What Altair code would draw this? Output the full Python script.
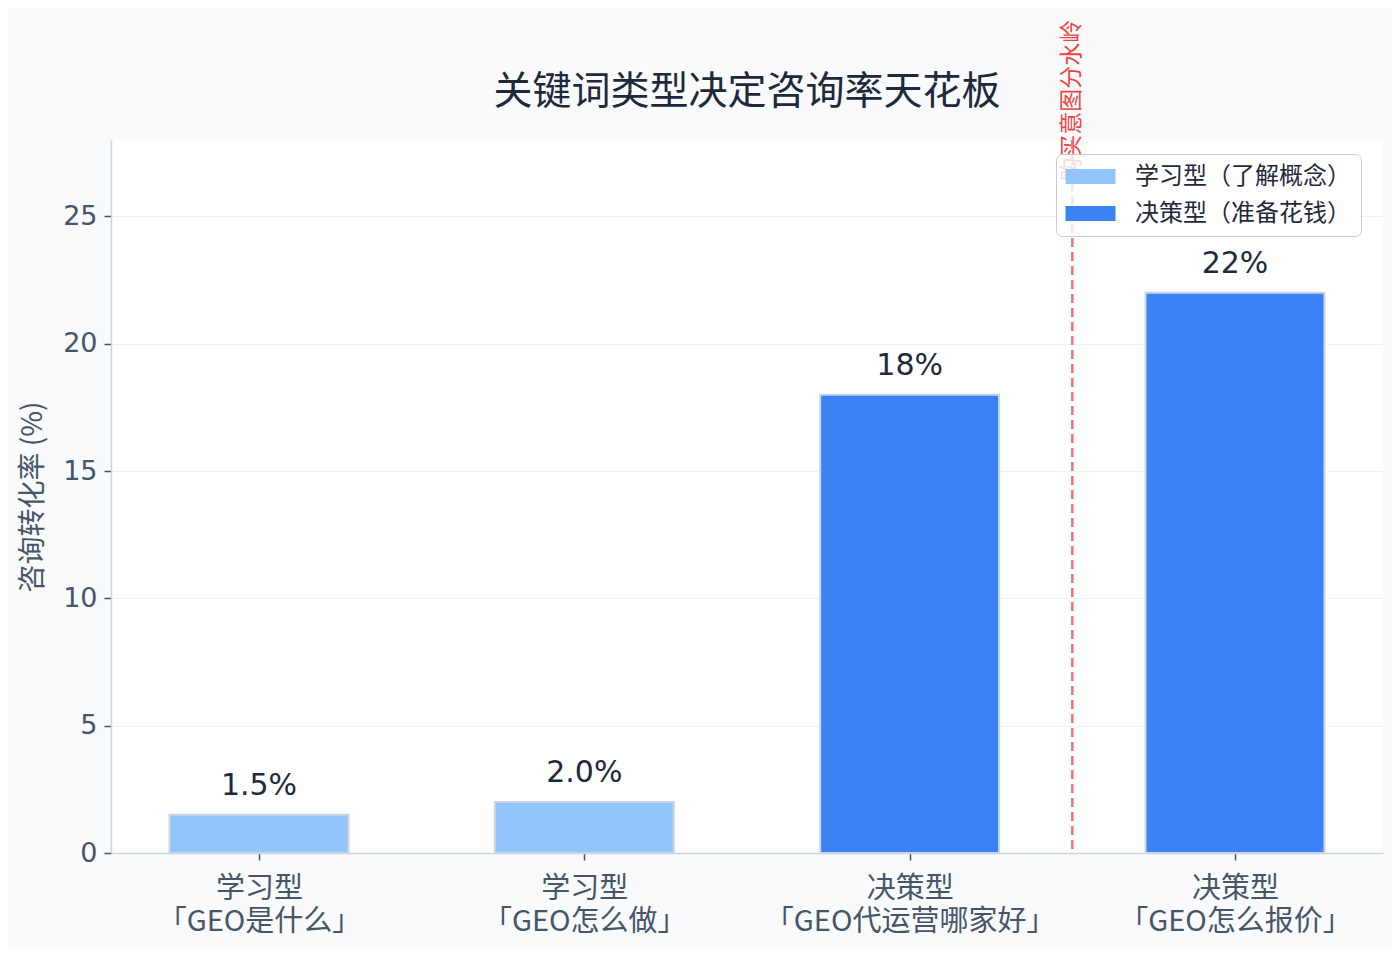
import altair as alt
import pandas as pd

# ---- data ----
categories = ["学习型\n「GEO是什么」", "学习型\n「GEO怎么做」", "决策型\n「GEO代运营哪家好」", "决策型\n「GEO怎么报价」"]
types = ["学习型（了解概念）", "学习型（了解概念）", "决策型（准备花钱）", "决策型（准备花钱）"]
values = [1.5, 2.0, 18.0, 22.0]
value_labels = ["1.5%", "2.0%", "18%", "22%"]
type_order = ["学习型（了解概念）", "决策型（准备花钱）"]
type_colors = ["#93c5fd", "#3b82f6"]
divider_pos = [2.5]
divider_text = ["购买意图分水岭"]
divider_text_y = [26.4]

df = pd.DataFrame({
    "pos": list(range(len(categories))),
    "value": values,
    "type": types,
    "label": value_labels,
})
div_df = pd.DataFrame({"pos": divider_pos, "text": divider_text, "ty": divider_text_y})

CJK = "Noto Sans CJK SC"
NUM = "DejaVu Sans, Noto Sans CJK SC"

label_list = "[" + ",".join("'" + c.replace("\n", "\\n") + "'" for c in categories) + "]"
label_expr = f"split({label_list}[round(datum.value)], '\\n')"

xscale = alt.Scale(domain=[-0.455, 3.455], nice=False, zero=False)
yscale = alt.Scale(domain=[0, 28], nice=False)

base = alt.Chart(df)

bars = base.transform_calculate(
    x0="datum.pos - 0.275", x1="datum.pos + 0.275"
).mark_bar(stroke="#cbd5e1", strokeWidth=2).encode(
    x=alt.X("x0:Q", scale=xscale, title=None,
            axis=alt.Axis(values=[0, 1, 2, 3], labelExpr=label_expr, grid=False,
                          labelFont=CJK, labelFontSize=29, labelColor="#475569",
                          labelLineHeight=33, labelPadding=14, labelLimit=500, tickSize=7,
                          tickColor="#475569", tickWidth=1.5,
                          domainColor="#cbd5e1", domainWidth=1.5, labelBaseline="top")),
    x2="x1:Q",
    y=alt.Y("value:Q", scale=yscale, title="咨询转化率 (%)",
            axis=alt.Axis(values=[0, 5, 10, 15, 20, 25], grid=True, gridColor="#eef2f6",
                          gridWidth=1.2, labelFont=NUM, labelFontSize=27,
                          labelColor="#475569", tickSize=7, tickColor="#475569",
                          tickWidth=1.5, labelPadding=7, domainColor="#cbd5e1",
                          domainWidth=1.5, titleFont=CJK, titleFontSize=28,
                          titleColor="#475569", titleFontWeight="normal",
                          titlePadding=15)),
    y2=alt.datum(0),
    color=alt.Color("type:N", scale=alt.Scale(domain=type_order, range=type_colors),
                    legend=alt.Legend(title=None, orient="none", legendX=945, legendY=14,
                                      fillColor="rgba(255,255,255,0.8)", strokeColor="#cccccc",
                                      cornerRadius=6, padding=10,
                                      labelFont=CJK, labelFontSize=24, labelColor="#1e293b",
                                      labelLimit=500,
                                      symbolType="M-2,-0.6H2V0.6H-2Z", symbolSize=625,
                                      symbolOffset=12, symbolStrokeWidth=0,
                                      labelOffset=32, rowPadding=12)),
)

value_text = base.mark_text(font=NUM, fontSize=30, color="#1e293b", baseline="alphabetic",
                            dy=-20).encode(
    x=alt.X("pos:Q", scale=xscale),
    y=alt.Y("value:Q", scale=yscale),
    text="label:N",
)

rule = alt.Chart(div_df).mark_rule(color="#f87171", strokeWidth=2.5, strokeDash=[9, 5]).encode(
    x=alt.X("pos:Q", scale=xscale),
)

div_label = alt.Chart(div_df).mark_text(angle=270, align="left", baseline="middle",
                                        font=CJK, fontSize=23, color="#ef4444").encode(
    x=alt.X("pos:Q", scale=xscale),
    y=alt.Y("ty:Q", scale=yscale),
    text="text:N",
)

chart = alt.layer(bars, value_text, div_label, rule).properties(
    width=1272, height=713,
    title=alt.TitleParams("关键词类型决定咨询率天花板", font=CJK, fontSize=39,
                          fontWeight="normal", color="#1e293b", anchor="middle",
                          frame="group", offset=28, dy=120),
    autosize=alt.AutoSizeParams(type="none"),
    padding={"left": 103, "top": 132, "right": 9, "bottom": 95},
    background="#f8fafc",
).configure_view(fill="white", stroke=None)

chart.save("out.html", embed_options={"renderer": "svg", "actions": False})
